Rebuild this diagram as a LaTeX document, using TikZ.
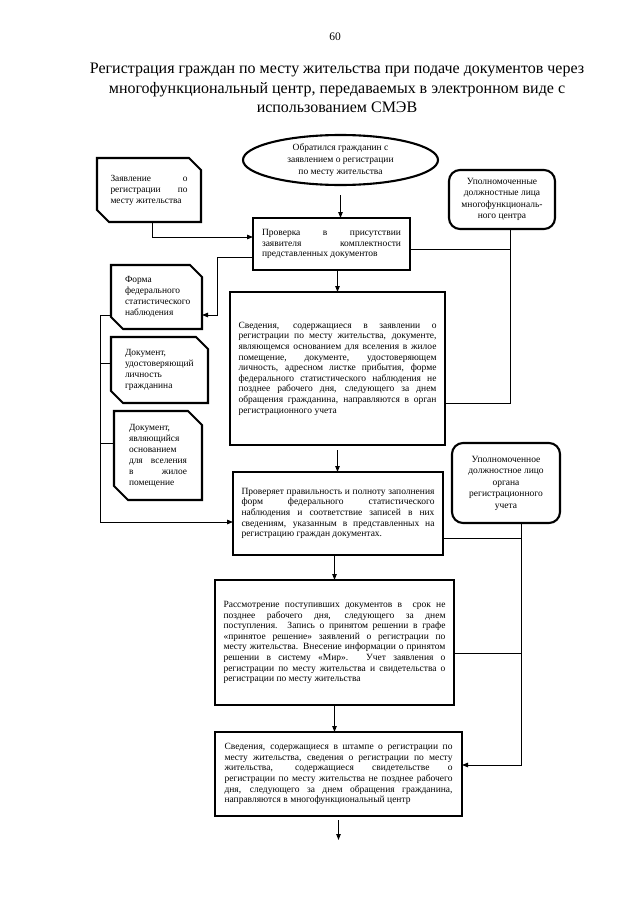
\documentclass[tikz,border=0pt]{standalone}
\usepackage{fontspec}
\setmainfont{Liberation Serif}
\usetikzlibrary{arrows.meta,shapes.geometric}
\tolerance=10000 \hbadness=10000 \hfuzz=20pt
\hyphenpenalty=10000 \exhyphenpenalty=10000
\newcommand\docshape[2]{\draw[boxline] (#1.north west) -- ([xshift=-#2]#1.north east) -- ([yshift=-#2]#1.north east) -- (#1.south east) -- ([xshift=#2]#1.south west) -- ([yshift=#2]#1.south west) -- cycle;}
\begin{document}
\begin{tikzpicture}[x=1pt,y=-1pt,
 every node/.style={inner sep=0pt, outer sep=0pt},
 boxline/.style={line width=2.1pt},
 main/.style={draw, boxline, rectangle, align=justify, font=\fontsize{9.5}{10.6}\selectfont},
 rbox/.style={draw, boxline, rectangle, rounded corners=11pt, align=center, font=\fontsize{9.5}{11.5}\selectfont},
 docbox/.style={rectangle, font=\fontsize{9.4}{11}\selectfont},
 conn/.style={line width=0.9pt},
 arr/.style={conn, -{Triangle[length=6pt,width=4.5pt]}},
 titlef/.style={font=\fontsize{16}{19.5}\selectfont}
]
\useasboundingbox[fill=white] (0,0) rectangle (640,905);

\node[font=\fontsize{11.5}{13}\selectfont, anchor=base] (pg) at (335,40) {60};
\node[titlef, anchor=base] (t1) at (337,73) {Регистрация граждан по месту жительства при подаче документов через};
\node[titlef, anchor=base] (t2) at (337,93) {многофункциональный центр, передаваемых в электронном виде с};
\node[titlef, anchor=base] (t3) at (337,112) {использованием СМЭВ};

% ellipse
\node[draw, boxline, ellipse, minimum width=195pt, minimum height=50pt, align=center,
      font=\fontsize{9.5}{11.7}\selectfont] (ell) at (340.5,160)
  {Обратился гражданин с\\заявлением о регистрации\\по месту жительства};

% document shapes on the left
\node[docbox, align=justify, minimum width=104pt, minimum height=64pt, text width=77pt] (zay) at (149,190)
  {\hspace*{0pt}Заявление о\linebreak регистрации по\linebreak месту жительства};
\docshape{zay}{12pt}

\node[docbox, align=left, minimum width=91pt, minimum height=64pt, text width=63pt] (forma) at (156.5,297)
  {Форма\\федерального\\статистического\\наблюдения};
\docshape{forma}{12pt}

\node[docbox, align=left, minimum width=97pt, minimum height=66pt, text width=69pt] (doc2) at (159.5,370)
  {Документ,\\удостоверяющий\\личность\\гражданина};
\docshape{doc2}{12pt}

\node[docbox, align=justify, minimum width=88pt, minimum height=89pt, text width=58pt] (doc3) at (158,455.5)
  {Документ,\newline являющийся\newline основанием\newline для вселения\linebreak в жилое\linebreak помещение};
\docshape{doc3}{14pt}

% main boxes
\node[main, minimum width=157pt, minimum height=52pt, text width=139pt] (b2) at (331.5,244)
  {Проверка в присутствии\linebreak заявителя комплектности\linebreak представленных документов};

\node[main, minimum width=215pt, minimum height=153pt, text width=198pt] (b3) at (337.5,368.5)
  {Сведения, содержащиеся в заявлении о\linebreak
   регистрации по месту жительства, документе,\linebreak
   являющемся основанием для вселения в жилое\linebreak
   помещение, документе, удостоверяющем\linebreak
   личность, адресном листке прибытия, форме\linebreak
   федерального статистического наблюдения не\linebreak
   позднее рабочего дня, следующего за днем\linebreak
   обращения гражданина, направляются в орган\linebreak
   регистрационного учета};

\node[main, minimum width=210pt, minimum height=83pt, text width=193pt] (b4) at (338,513.5)
  {Проверяет правильность и полноту заполнения\linebreak
   форм федерального статистического\linebreak
   наблюдения и соответствие записей в них\linebreak
   сведениям, указанным в представленных на\linebreak
   регистрацию граждан документах.};

\node[main, minimum width=239pt, minimum height=125pt, text width=222pt] (b5) at (334.5,642.5)
  {Рассмотрение поступивших документов в~ срок не\linebreak
   позднее рабочего дня, следующего за днем\linebreak
   поступления. Запись о принятом решении в графе\linebreak
   «принятое решение» заявлений о регистрации по\linebreak
   месту жительства. Внесение информации о принятом\linebreak
   решении в систему «Мир». Учет заявления о\linebreak
   регистрации по месту жительства и свидетельства о\linebreak
   регистрации по месту жительства};

\node[main, minimum width=247pt, minimum height=84pt, text width=228pt] (b6) at (338.5,774)
  {Сведения, содержащиеся в штампе о регистрации по\linebreak
   месту жительства, сведения о регистрации по месту\linebreak
   жительства, содержащиеся свидетельстве о\linebreak
   регистрации по месту жительства не позднее рабочего\linebreak
   дня, следующего за днем обращения гражданина,\linebreak
   направляются в многофункциональный центр};

% rounded boxes on the right
\node[rbox, minimum width=106pt, minimum height=59pt] (upl1) at (502,199.5)
  {Уполномоченные\\должностные лица\\многофункциональ-\\ного центра};
\node[rbox, minimum width=108pt, minimum height=80pt] (upl2) at (506,483)
  {Уполномоченное\\должностное лицо\\органа\\регистрационного\\учета};

% connectors
\draw[arr, shorten <=10pt] (ell.south) -- (ell.south |- b2.north);
\draw[arr] ([xshift=3pt]zay.south) |- ([yshift=7pt]b2.west);

\coordinate (r1) at ([xshift=8pt]upl1.south);
\draw[conn] (r1) |- ([yshift=-34.5pt]b3.east);
\draw[conn] ([yshift=-5pt]b2.east) -| (r1);

\draw[arr] (b3.north |- b2.south) -- (b3.north);
\draw[arr] ([yshift=-13pt]b2.west) -- ++(-36,0) |- ([yshift=-18pt]forma.east);

\draw[arr] ([yshift=-18pt]forma.west) -- ++(-11,0) |- ([yshift=-8.5pt]b4.west);
\draw[conn] ([yshift=7pt]doc2.west) -- ++(-11,0);
\draw[conn] ([yshift=12.5pt]doc3.west) -- ++(-14,0);

\draw[arr, shorten <=5pt] (b3.south) -- (b3.south |- b4.north);

\coordinate (r2) at ([xshift=15pt]upl2.south);
\draw[arr] (r2) |- ([yshift=9pt]b6.east);
\draw[conn] ([yshift=-24.5pt]b4.east) -| (r2);
\draw[conn] ([yshift=-10.5pt]b5.east) -| (r2);

\draw[arr] (b5.north |- b4.south) -- (b5.north);
\draw[arr] (b5.south) -- (b5.south |- b6.north);
\coordinate (endpt) at (337,840);
\draw[arr, shorten <=4pt] (b6.south) -- (b6.south |- endpt);
\end{tikzpicture}
\end{document}
